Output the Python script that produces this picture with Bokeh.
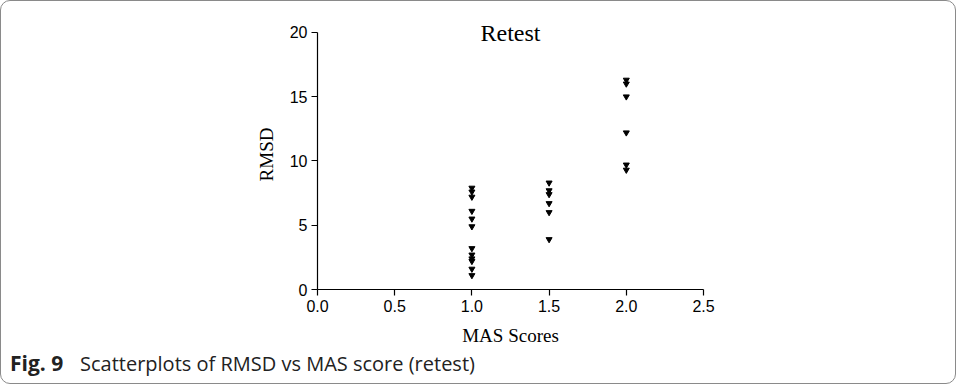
from bokeh.plotting import figure
from bokeh.models import Range1d, Label, FixedTicker, Div
from bokeh.layouts import column
from bokeh.embed import file_html
from bokeh.resources import INLINE

# Data
mas_scores = [1.0] * 12 + [1.5] * 6 + [2.0] * 6
rmsd = [7.9, 7.6, 7.2, 6.1, 5.5, 4.9, 3.2, 2.7, 2.4, 2.2, 1.6, 1.1,
        8.3, 7.7, 7.4, 6.7, 6.0, 3.9,
        16.3, 16.0, 15.0, 12.2, 9.7, 9.3]
x_ticks = [0.0, 0.5, 1.0, 1.5, 2.0, 2.5]
y_ticks = [0, 5, 10, 15, 20]
title_text = "Retest"
x_label = "MAS Scores"
y_label = "RMSD"
caption_bold = "Fig. 9"
caption_text = "Scatterplots of RMSD vs MAS score (retest)"

W, H1 = 956, 350
FL, FR, FB = 316, 704, 288
Y_TOP = 21  # extra headroom above 20 so the title stays inside the frame
FT = 288 - round(Y_TOP * (288 - 31) / 20)

p = figure(width=W, height=H1, output_backend="svg", toolbar_location=None,
           x_range=Range1d(0, 2.5), y_range=Range1d(0, Y_TOP),
           min_border_left=FL, min_border_right=W - FR,
           min_border_top=FT, min_border_bottom=H1 - FB)
p.outline_line_color = None
p.xgrid.visible = False
p.ygrid.visible = False
p.background_fill_color = "white"
p.border_fill_color = None

p.scatter(mas_scores, rmsd, marker="inverted_triangle", size=6,
          fill_color="black", line_color="black")

for ax in (p.xaxis[0], p.yaxis[0]):
    ax.axis_line_color = "black"
    ax.axis_line_width = 1.2
    ax.major_tick_line_color = "black"
    ax.major_tick_line_width = 1.2
    ax.major_tick_in = 0
    ax.major_tick_out = 6
    ax.minor_tick_line_color = None
    ax.major_label_text_font = "Liberation Sans"
    ax.major_label_text_font_size = "16px"
    ax.major_label_text_color = "black"
    ax.axis_label_text_font = "Liberation Serif"
    ax.axis_label_text_font_size = "19px"
    ax.axis_label_text_font_style = "normal"
    ax.axis_label_text_color = "black"

p.xaxis[0].ticker = FixedTicker(ticks=x_ticks)
p.yaxis[0].ticker = FixedTicker(ticks=y_ticks)
p.yaxis[0].bounds = (0, 20)
p.xaxis[0].major_label_overrides = {t: f"{t:.1f}" for t in x_ticks}
p.xaxis[0].axis_label = x_label
p.yaxis[0].axis_label = y_label
p.xaxis[0].major_label_standoff = 4
p.yaxis[0].major_label_standoff = 4
p.xaxis[0].axis_label_standoff = 10
p.yaxis[0].axis_label_standoff = 10

p.add_layout(Label(x=1.25, y=20, text=title_text, text_align="center",
                   text_baseline="middle", y_offset=-1,
                   text_font="Liberation Serif", text_font_size="24px",
                   text_color="black"))

caption = Div(text=(f'<span style="display:inline-block;width:70px;font-weight:bold;'
                    f'font-size:21px">{caption_bold}</span>'
                    f'<span>{caption_text}</span>'),
              width=W - 4, height=32,
              styles={"font-family": "Open Sans", "font-size": "20px", "line-height": "20px",
                      "color": "#222222", "padding-left": "9px", "padding-top": "2px",
                      "margin": "0", "white-space": "nowrap"})

layout = column(p, caption, width=W, height=384, spacing=0,
                styles={"border": "1px solid #8a8a8a", "border-radius": "10px",
                        "box-sizing": "border-box", "background": "white",
                        "overflow": "hidden"})

open("out.html", "w").write(file_html(layout, INLINE))
